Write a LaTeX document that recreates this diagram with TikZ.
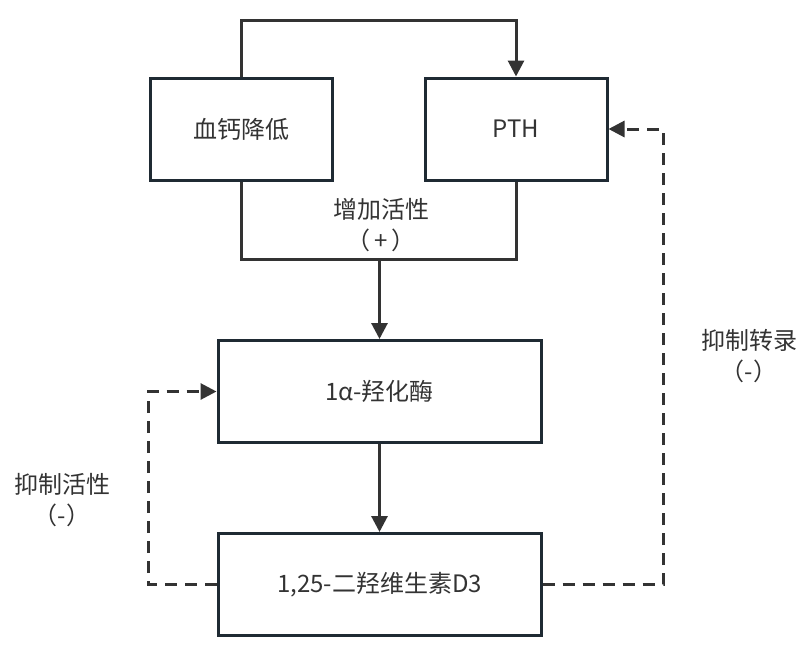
\documentclass[tikz,border=0pt]{standalone}
\usepackage{fontspec}
\setmainfont{Noto Sans CJK SC}
\usetikzlibrary{arrows.meta}
\definecolor{boxline}{HTML}{1F2A33}
\definecolor{conn}{HTML}{333333}
\definecolor{txt}{HTML}{333333}
\begin{document}
\begin{tikzpicture}[x=1pt,y=-1pt,
  box/.style={draw=boxline,line width=3pt,minimum width=#1,minimum height=102pt,inner sep=0pt,
    text=txt,font=\fontsize{24}{28}\selectfont},
  conn/.style={draw=conn,line width=3pt},
  arr/.style={-{Triangle[length=16pt,width=16pt]}},
  dsh/.style={dash pattern=on 12pt off 8pt},
  lbl/.style={text=txt,font=\fontsize{24}{31}\selectfont,align=center,inner sep=0pt}]
\useasboundingbox (0,0) rectangle (811,667);
\node[box=182pt] (A) at (241,129) {血钙降低};
\node[box=182pt] (B) at (516,129) {PTH};
\node[box=323pt] (C) at (379.5,391.5) {1α-羟化酶};
\node[box=323pt] (D) at (379.5,584.5) {1,25-二羟维生素D3};
\coordinate (top) at (241,20);
\coordinate (mid) at (379.5,259);
\coordinate (lft) at (148,0);
\coordinate (rgt) at (663,0);
\draw[conn,arr] (A.north) -- (top) -| (B.north);
\draw[conn] (A.south) -- (A.south |- mid) -- (B.south |- mid) -- (B.south);
\draw[conn,arr] (mid) -- (C.north);
\draw[conn,arr] (C.south) -- (D.north);
\draw[conn,arr,dsh] (D.west) -- (lft |- D.west) -- (lft |- C.west) -- (C.west);
\draw[conn,arr,dsh] (D.east) -- (rgt |- D.east) -- (rgt |- B.east) -- (B.east);
\node[lbl] (l1) at (381,225) {增加活性\\（\,+\,）};
\node[lbl] (l2) at (62,500) {抑制活性\\（-）};
\node[lbl] (l3) at (749,356) {抑制转录\\（-）};
\end{tikzpicture}
\end{document}
